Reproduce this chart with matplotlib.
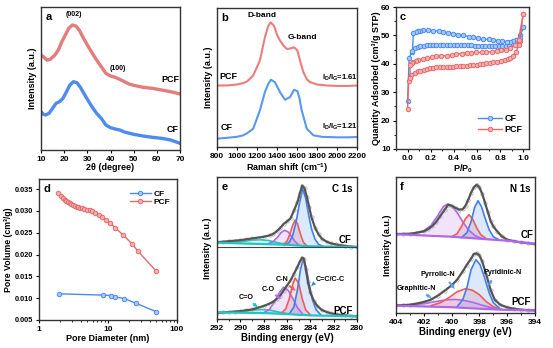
import matplotlib
matplotlib.use("Agg")
import matplotlib.pyplot as plt
from matplotlib.ticker import MultipleLocator, FormatStrFormatter, NullFormatter
from matplotlib.lines import Line2D

plt.rcParams['font.family'] = ['Liberation Sans', 'DejaVu Sans']
plt.rcParams['font.weight'] = 'bold'
plt.rcParams['axes.labelweight'] = 'bold'
plt.rcParams['font.size'] = 6
plt.rcParams['axes.linewidth'] = 1.0
plt.rcParams['axes.edgecolor'] = '#333333'
plt.rcParams['xtick.major.size'] = 2.5
plt.rcParams['ytick.major.size'] = 2.5
plt.rcParams['xtick.minor.size'] = 1.5
plt.rcParams['ytick.minor.size'] = 1.5
plt.rcParams['xtick.major.pad'] = 1.5
plt.rcParams['ytick.major.pad'] = 1.5
plt.rcParams['mathtext.default'] = 'regular'

# ---------------- data ----------------
# (a) XRD, intensity in arbitrary units
xrd_2theta_pcf = [10, 11, 12.5, 14, 16, 17.5, 19, 20.5, 22, 23.5, 25, 26.5, 28, 30, 32, 34, 36, 38,
                  40, 42, 44, 46, 48, 50, 54, 58, 62, 66, 70]
xrd_pcf = [95, 93.3, 90, 90.7, 95, 100, 108.3, 115, 121.7, 125, 124, 120, 113.3, 105, 97.3, 90, 83.3, 76.7,
           74, 72.7, 70.7, 68.3, 66, 64.7, 62.7, 61.7, 60, 58.3, 56]
xrd_2theta_cf = [10, 11, 12, 13.5, 15, 16.5, 18, 19.5, 21, 22.5, 24, 25.5, 27, 28.5, 30, 32, 34, 36, 38,
                 40, 42, 44, 46, 50, 54, 58, 62, 66, 70]
xrd_cf = [38.3, 35.7, 35, 36.7, 41.7, 46.7, 48.3, 51.7, 58.3, 65, 68.3, 67.3, 62.7, 56.7, 50.7, 43.3, 36.7,
          31.7, 25, 22.3, 21, 20, 18, 15.7, 14, 12.7, 11.7, 10, 6.7]

# (b) Raman
raman_x_pcf = [800, 900, 1000, 1061, 1100, 1162, 1229, 1279, 1310, 1336, 1370, 1400, 1430, 1465, 1497,
               1530, 1570, 1604, 1630, 1664, 1700, 1731, 1800, 1900, 2000, 2100, 2200]
raman_pcf = [65, 65, 66, 67.3, 69, 75, 90, 113.3, 124, 128.3, 125, 116, 110, 105, 101.7,
             102, 103.3, 100, 90, 78.3, 71, 68.3, 66, 65, 64.5, 64.5, 65]
raman_x_cf = [800, 900, 1000, 1061, 1100, 1162, 1229, 1279, 1310, 1340, 1379, 1430, 1480, 1530, 1570,
              1604, 1625, 1647, 1698, 1764, 1850, 2000, 2100, 2200]
raman_cf = [11.7, 12.5, 13.5, 15, 17, 21.7, 40, 58.3, 66, 70.7, 68.3, 58.3, 50.7, 53.3, 60.7,
            59.3, 52, 40, 21.7, 15, 13.5, 13, 13, 13.3]

# (c) N2 isotherms
cf_ads_p = [0.0, 0.014, 0.037, 0.066, 0.09, 0.11, 0.14, 0.166, 0.19, 0.22, 0.25, 0.28, 0.31, 0.34, 0.37,
            0.4, 0.43, 0.46, 0.49, 0.52, 0.55, 0.58, 0.61, 0.64, 0.67, 0.7, 0.73, 0.76, 0.79, 0.82, 0.85,
            0.88, 0.91, 0.93, 0.95, 0.97, 1.0]
cf_ads_q = [26.8, 42.0, 44.3, 45.5, 45.8, 46.1, 46.4, 46.7, 46.7, 46.7, 46.7, 46.7, 46.7, 46.7, 46.6,
            46.6, 46.6, 46.6, 46.5, 46.5, 46.5, 46.4, 46.4, 46.4, 46.3, 46.3, 46.2, 46.2, 46.1, 46.1, 46.2,
            46.5, 47.0, 47.5, 48.5, 50.0, 53.0]
cf_des_p = [1.0, 0.97, 0.94, 0.91, 0.89, 0.86, 0.82, 0.78, 0.74, 0.7, 0.65, 0.61, 0.57, 0.53, 0.48,
            0.44, 0.39, 0.35, 0.31, 0.27, 0.22, 0.18, 0.137, 0.11, 0.094, 0.07, 0.05, 0.042]
cf_des_q = [53.0, 49.0, 48.3, 47.9, 47.8, 47.8, 47.9, 48.1, 48.4, 48.6, 48.7, 49.0, 49.3, 49.6, 50.0,
            50.3, 50.6, 50.9, 51.2, 51.5, 51.7, 51.8, 51.8, 51.6, 51.4, 51.1, 50.8, 44.5]
pcf_ads_p = [0.0, 0.01, 0.03, 0.066, 0.09, 0.11, 0.14, 0.166, 0.19, 0.22, 0.25, 0.28, 0.31, 0.34, 0.37,
             0.39, 0.42, 0.45, 0.48, 0.51, 0.54, 0.57, 0.6, 0.63, 0.65, 0.68, 0.71, 0.74, 0.77, 0.81,
             0.84, 0.87, 0.89, 0.91, 0.94, 0.96, 0.97, 1.0]
pcf_ads_q = [24.2, 34.0, 36.1, 36.9, 37.3, 37.6, 37.9, 38.2, 38.4, 38.6, 38.7, 38.7, 38.7, 38.8, 38.9,
             39.0, 39.1, 39.2, 39.3, 39.4, 39.5, 39.6, 39.7, 39.9, 40.0, 40.2, 40.3, 40.5, 40.8, 41.1,
             41.4, 41.8, 42.2, 42.8, 44.3, 46.7, 48.2, 57.6]
pcf_des_p = [1.0, 0.96, 0.93, 0.89, 0.85, 0.81, 0.77, 0.73, 0.68, 0.64, 0.59, 0.55, 0.51, 0.47, 0.42,
             0.38, 0.34, 0.29, 0.25, 0.21, 0.166, 0.13, 0.094, 0.07, 0.05, 0.035, 0.023, 0.02]
pcf_des_q = [57.6, 48.5, 46.7, 45.5, 44.9, 44.7, 44.5, 44.3, 44.1, 44.0, 44.0, 43.9, 43.8, 43.6, 43.4,
             43.1, 42.9, 42.7, 42.6, 42.3, 42.0, 41.7, 41.4, 41.1, 40.8, 40.2, 39.6, 35.0]

# (d) pore size distribution
pore_d_pcf = [1.9, 2.05, 2.2, 2.35, 2.5, 2.65, 2.8, 2.95, 3.1, 3.3, 3.5, 3.7, 3.95, 4.2, 4.5, 4.9, 5.4,
              5.9, 6.5, 7.3, 8.2, 9.3, 10.7, 12.8, 16.5, 22.5, 27, 50]
pore_v_pcf = [0.0342, 0.0333, 0.0329, 0.0325, 0.0322, 0.0320, 0.0318, 0.0316, 0.0314, 0.0312, 0.0310,
              0.0309, 0.0307, 0.0306, 0.0305, 0.0303, 0.0301, 0.0299, 0.0296, 0.0291, 0.0286, 0.0280,
              0.0272, 0.0261, 0.0245, 0.0224, 0.0208, 0.0162]
pore_d_cf = [1.95, 8.6, 11.1, 12.5, 17.3, 25.8, 50]
pore_v_cf = [0.0110, 0.0107, 0.0106, 0.0103, 0.0099, 0.0088, 0.0069]

# (e) C 1s XPS (arbitrary units, CF spectrum offset above PCF)
c1s_cf_x = [292, 291.5, 291, 290.5, 290, 289.5, 289, 288.5, 288, 287.5, 287.2, 286.9, 286.6, 286.3, 286.0,
            285.7, 285.4, 285.1, 284.9, 284.7, 284.5, 284.3, 284.1, 283.9, 283.6, 283.3, 283.0, 282.6,
            282.2, 281.8, 281.4, 281, 280.5, 280]
c1s_cf = [79, 79.5, 80, 80.5, 81, 81.8, 82.7, 83.5, 84.3, 85.7, 87, 89.5, 92.7, 96.7, 99.3,
          102.3, 110, 118.3, 126.7, 134.3, 131.7, 123.3, 113.3, 103.3, 93.3, 86.7, 82.3, 79.5,
          77.8, 76.8, 76, 75.3, 74.7, 74.3]
c1s_cf_bg_x = [292, 286, 284, 280]
c1s_cf_bg = [78.5, 76.5, 75, 74.3]
c1s_cf_co2_x = [291, 290, 289, 288.3, 287.5, 286.8, 286]
c1s_cf_co2 = [78.5, 79.5, 81, 81.5, 80.5, 78.5, 76.8]
c1s_cf_co_x = [287.6, 287.2, 286.8, 286.5, 286.2, 285.9, 285.6, 285.3, 285.0]
c1s_cf_co = [77.6, 79.5, 84, 88.5, 90.7, 89, 84.5, 79.5, 76.5]
c1s_cf_cn_x = [286.3, 286.0, 285.75, 285.5, 285.3, 285.1, 284.85, 284.6, 284.3]
c1s_cf_cn = [77, 80, 87, 96, 100.7, 97, 87, 79, 75.5]
c1s_cf_cc_x = [286.2, 285.8, 285.5, 285.2, 284.95, 284.65, 284.4, 284.15, 283.9, 283.6, 283.3, 282.9]
c1s_cf_cc = [76, 79, 86, 100, 116, 131, 122, 106, 92, 82, 77, 75]

c1s_pcf_x = [292, 291.5, 291, 290.5, 290, 289.5, 289, 288.5, 288, 287.5, 287.2, 286.9, 286.6, 286.3, 286.0,
             285.7, 285.4, 285.1, 284.9, 284.7, 284.55, 284.4, 284.2, 284.0, 283.7, 283.4, 283.0, 282.6,
             282.2, 281.8, 281.4, 281, 280.5, 280]
c1s_pcf = [10, 10.4, 10.8, 11.3, 11.7, 12.5, 13.3, 15, 16.7, 19, 20.8, 23.5, 26.7, 31.7, 36.7,
           41.7, 48.3, 55, 60, 64, 62.7, 53.3, 40, 30, 21.7, 16.7, 12.7, 10.8, 9.5, 8.6, 8, 7.5, 7, 6.7]
c1s_pcf_bg_x = [292, 288, 286, 284, 280]
c1s_pcf_bg = [10.5, 9.8, 8.8, 7.5, 6.7]
c1s_pcf_co2_x = [291, 290, 289, 288.2, 287.4, 286.6, 285.8]
c1s_pcf_co2 = [10.5, 11.3, 12.7, 13.3, 12.5, 10.5, 9]
c1s_pcf_co_x = [288.0, 287.5, 287.0, 286.7, 286.3, 285.9, 285.5, 285.1, 284.7]
c1s_pcf_co = [10, 13.5, 22, 29, 35, 32, 24, 15, 9.5]
c1s_pcf_cn_x = [286.5, 286.1, 285.8, 285.5, 285.3, 285.0, 284.7, 284.4, 284.0]
c1s_pcf_cn = [9.5, 14, 24, 38, 44, 39, 24, 13, 8]
c1s_pcf_cc_x = [285.8, 285.4, 285.1, 284.85, 284.6, 284.35, 284.1, 283.8, 283.5, 283.1]
c1s_pcf_cc = [9, 16, 33, 52, 62.7, 54, 38, 22, 13, 8]

# (f) N 1s XPS
n1s_cf_x = [404, 403.5, 403, 402.5, 402, 401.7, 401.4, 401.1, 400.8, 400.5, 400.25, 400.0, 399.7, 399.45,
            399.2, 399.0, 398.8, 398.6, 398.4, 398.2, 398.0, 397.8, 397.6, 397.4, 397.2, 397.0, 396.7,
            396.4, 396.0, 395.5, 395, 394.5, 394]
n1s_cf = [85.7, 85.8, 86, 87, 88.3, 90.5, 93.5, 98, 104, 110, 115, 114, 111.7, 110,
          110.5, 114, 120, 127, 132.3, 135, 132.3, 126, 117, 108, 99, 93.3, 88,
          83.5, 80, 78.5, 77.3, 76.5, 75.7]
n1s_cf_bg_x = [404, 400, 398, 396, 394]
n1s_cf_bg = [85.5, 83, 81, 79, 76]
n1s_cf_gr_x = [402.6, 402, 401.5, 401, 400.6, 400.3, 400, 399.6, 399.2, 398.8, 398.3, 397.8]
n1s_cf_gr = [87, 89, 94, 104, 113, 115.7, 114, 107, 98, 90, 84, 81]
n1s_cf_pyr_x = [400.0, 399.6, 399.3, 399.0, 398.75, 398.5, 398.2, 397.9, 397.5]
n1s_cf_pyr = [83, 86, 93, 101, 105, 101, 92, 85, 81]
n1s_cf_pyd_x = [399.3, 398.9, 398.6, 398.35, 398.1, 397.85, 397.6, 397.3, 397.0, 396.6]
n1s_cf_pyd = [82, 87, 98, 112, 119, 113, 102, 90, 83, 80]

n1s_pcf_x = [404, 403.5, 403, 402.5, 402, 401.5, 401, 400.5, 400, 399.6, 399.2, 398.9, 398.6, 398.4,
             398.2, 398.0, 397.8, 397.5, 397.2, 396.9, 396.5, 396, 395.5, 395, 394.5, 394]
n1s_pcf = [14.3, 14.6, 15, 16.2, 17.7, 20, 24, 29, 34.3, 40, 48.3, 55, 61, 65.7,
           66.3, 64.3, 58.3, 45, 30, 20, 15, 12.3, 11, 10, 9.6, 9.3]
n1s_pcf_bg_x = [404, 400, 398, 396, 394]
n1s_pcf_bg = [14, 12.5, 11, 9.8, 9.3]
n1s_pcf_gr_x = [403, 402, 401, 400.3, 399.8, 399.2, 398.5, 397.8, 397.0, 396.3]
n1s_pcf_gr = [14.5, 16, 18.5, 20, 20.3, 19.5, 17.5, 14.5, 11.5, 10]
n1s_pcf_pyr_x = [401.5, 400.8, 400.2, 399.6, 399.0, 398.5, 398, 397.5, 397, 396.5]
n1s_pcf_pyr = [14, 17, 22, 28, 31, 29.5, 25, 18, 13, 10.5]
n1s_pcf_pyd_x = [399.6, 399.2, 398.9, 398.6, 398.25, 397.95, 397.65, 397.3, 397.0, 396.6]
n1s_pcf_pyd = [13, 20, 32, 50, 60, 55, 43, 27, 17, 12]

# ---------------- colours ----------------
RED = '#e66a6a'
BLUE = '#4a8bf0'
XPS_BLUE = '#3f80ea'
XPS_RED = '#ee5c5c'
XPS_PURPLE = '#b067ec'
XPS_CYAN = '#22c4c4'
GREY = '#555555'

W, H = 553, 348
fig = plt.figure(figsize=(W / 100, H / 100), dpi=100)


def box(l, t, r, b):
    return [l / W, 1 - b / H, (r - l) / W, (b - t) / H]


def letter(ax, s):
    ax.text(0.03, 0.965, s, transform=ax.transAxes, fontsize=8, fontweight='bold', va='top', ha='left')


# ===== (a) XRD =====
ax1 = fig.add_axes(box(41, 7, 180, 150))
ax1.plot(xrd_2theta_pcf, xrd_pcf, color='#e57b7b', lw=2.4)
ax1.plot(xrd_2theta_cf, xrd_cf, color='#4d8bf2', lw=2.4)
ax1.set_xlim(10, 70)
ax1.set_ylim(0, 143)
ax1.set_yticks([])
ax1.xaxis.set_major_locator(MultipleLocator(10))
ax1.set_xlabel('2θ (degree)', fontsize=6.5, labelpad=0)
ax1.set_ylabel('Intensity (a.u.)', fontsize=6.5)
ax1.yaxis.set_label_coords(-0.03, 0.5)
ax1.text(24, 135, '(002)', fontsize=5, ha='center', va='center')
ax1.text(43, 81, '(100)', fontsize=5, ha='center', va='center')
ax1.text(66, 70, 'PCF', fontsize=6.5, ha='center', va='center')
ax1.text(67, 20, 'CF', fontsize=6.5, ha='center', va='center')
letter(ax1, 'a')

# ===== (b) Raman =====
ax2 = fig.add_axes(box(217, 8, 357, 147))
ax2.plot(raman_x_pcf, raman_pcf, color='#ec7d7d', lw=1.5)
ax2.plot(raman_x_cf, raman_cf, color='#5a97f2', lw=1.5)
ax2.set_xlim(800, 2200)
ax2.set_ylim(3.3, 142.7)
ax2.set_yticks([])
ax2.xaxis.set_major_locator(MultipleLocator(200))
ax2.set_xlabel('Raman shift (cm$^{-1}$)', fontsize=6.5, labelpad=1)
ax2.set_ylabel('Intensity (a.u.)', fontsize=6.5)
ax2.yaxis.set_label_coords(-0.029, 0.5)
ax2.text(1245, 135, 'D-band', fontsize=6, ha='center', va='center')
ax2.text(1654, 113, 'G-band', fontsize=6, ha='center', va='center')
ax2.text(910, 74, 'PCF', fontsize=6.5, ha='center', va='center')
ax2.text(897, 23, 'CF', fontsize=6.5, ha='center', va='center')
ax2.text(2029, 73, r'I$_D$/I$_G$=1.61', fontsize=5.5, ha='center', va='center')
ax2.text(2029, 23, r'I$_D$/I$_G$=1.21', fontsize=5.5, ha='center', va='center')
letter(ax2, 'b')

# ===== (c) isotherms =====
ax3 = fig.add_axes(box(396, 7, 529, 149))
mk = dict(marker='o', ms=3.2, mew=0.7, lw=1.0)
ax3.plot(cf_ads_p, cf_ads_q, color=BLUE, mfc='#a9c8f8', mec=BLUE, **mk)
ax3.plot(cf_des_p, cf_des_q, color=BLUE, mfc='#a9c8f8', mec=BLUE, **mk)
ax3.plot(pcf_ads_p, pcf_ads_q, color=RED, mfc='#f2b0b0', mec=RED, **mk)
ax3.plot(pcf_des_p, pcf_des_q, color=RED, mfc='#f2b0b0', mec=RED, **mk)
ax3.set_xlim(-0.1, 1.05)
ax3.set_ylim(10, 60)
ax3.xaxis.set_major_locator(MultipleLocator(0.2))
ax3.xaxis.set_minor_locator(MultipleLocator(0.1))
ax3.yaxis.set_major_locator(MultipleLocator(10))
ax3.yaxis.set_minor_locator(MultipleLocator(5))
ax3.xaxis.set_major_formatter(FormatStrFormatter('%.1f'))
ax3.set_xlabel('P/P$_0$', fontsize=6.5, labelpad=1)
ax3.set_ylabel('Quantity Adsorbed (cm³/g STP)', fontsize=6.5)
ax3.yaxis.set_label_coords(-0.115, 0.5)
h_cf = Line2D([], [], color=BLUE, mfc='#a9c8f8', mec=BLUE, **mk)
h_pcf = Line2D([], [], color=RED, mfc='#f2b0b0', mec=RED, **mk)
ax3.legend([h_cf, h_pcf], ['CF', 'PCF'], loc='lower right', bbox_to_anchor=(1.0, 0.06), frameon=False,
           fontsize=6.5, handlelength=2.6, handletextpad=0.3, labelspacing=0.2, borderaxespad=0.3)
letter(ax3, 'c')

# ===== (d) pore size distribution =====
ax4 = fig.add_axes(box(39, 179, 177, 320))
ax4.plot(pore_d_cf, pore_v_cf, color=BLUE, mfc='#a9c8f8', mec=BLUE, **mk, label='CF')
ax4.plot(pore_d_pcf, pore_v_pcf, color=RED, mfc='#f2b0b0', mec=RED, **mk, label='PCF')
ax4.set_xscale('log')
ax4.set_xlim(1, 100)
ax4.set_ylim(0.005, 0.0373)
ax4.xaxis.set_minor_formatter(NullFormatter())
ax4.set_xticks([1, 10, 100])
ax4.set_xticklabels(['1', '10', '100'])
ax4.yaxis.set_major_locator(MultipleLocator(0.005))
ax4.yaxis.set_major_formatter(FormatStrFormatter('%.3f'))
ax4.tick_params(axis='y', labelsize=5.3)
ax4.set_xlabel('Pore Diameter (nm)', fontsize=6.5, labelpad=1)
ax4.set_ylabel('Pore Volume (cm³/g)', fontsize=6.3)
ax4.yaxis.set_label_coords(-0.19, 0.5)
ax4.legend(loc='upper right', bbox_to_anchor=(1.0, 0.97), frameon=False, fontsize=6, handlelength=2.6,
           handletextpad=0.3, labelspacing=0.1, borderaxespad=0.4)
letter(ax4, 'd')


def draw_comp(ax, x, y, color, lw=1.2):
    ax.fill(x, y, color=color, alpha=0.18, lw=0)
    ax.plot(x, y, color=color, lw=lw)


def draw_envelope(ax, x, y):
    ax.plot(x, y, ls='none', marker='o', ms=2.4, mfc='none', mec='#a8a8a8', mew=0.5)
    ax.plot(x, y, color=GREY, lw=1.6)


# ===== (e) C 1s =====
ax5 = fig.add_axes(box(217, 177, 357, 319))
for sx, sy, c in [(c1s_cf_co2_x, c1s_cf_co2, XPS_CYAN), (c1s_cf_co_x, c1s_cf_co, XPS_PURPLE),
                  (c1s_cf_cn_x, c1s_cf_cn, XPS_RED), (c1s_cf_cc_x, c1s_cf_cc, XPS_BLUE),
                  (c1s_pcf_co2_x, c1s_pcf_co2, XPS_CYAN), (c1s_pcf_co_x, c1s_pcf_co, XPS_PURPLE),
                  (c1s_pcf_cn_x, c1s_pcf_cn, XPS_RED), (c1s_pcf_cc_x, c1s_pcf_cc, XPS_BLUE)]:
    draw_comp(ax5, sx, sy, c)
draw_envelope(ax5, c1s_cf_x, c1s_cf)
draw_envelope(ax5, c1s_pcf_x, c1s_pcf)
ax5.plot(c1s_cf_bg_x, c1s_cf_bg, color=XPS_CYAN, lw=1.6)
ax5.plot(c1s_pcf_bg_x, c1s_pcf_bg, color=XPS_CYAN, lw=1.6)
ax5.axhline(74, color='#444444', lw=0.8)
ax5.set_xlim(292, 280)
ax5.set_ylim(4, 142.7)
ax5.set_yticks([])
ax5.xaxis.set_major_locator(MultipleLocator(2))
ax5.xaxis.set_minor_locator(MultipleLocator(1))
ax5.set_xlabel('Binding energy (eV)', fontsize=7, labelpad=1)
ax5.set_ylabel('Intensity (a.u.)', fontsize=6.5)
ax5.yaxis.set_label_coords(-0.036, 0.5)
ax5.text(0.97, 0.95, 'C 1s', transform=ax5.transAxes, fontsize=7, ha='right', va='top')
ax5.text(281.0, 81, 'CF', fontsize=7, ha='center', va='center')
ax5.text(281.2, 12, 'PCF', fontsize=7, ha='center', va='center')
ax5.text(282.3, 42.5, 'C=C/C-C', fontsize=5.2, ha='center', va='center')
ax5.text(286.4, 42.3, 'C-N', fontsize=5.2, ha='center', va='center')
ax5.text(287.6, 33.3, 'C-O', fontsize=5.2, ha='center', va='center')
ax5.text(289.5, 25, 'C=O', fontsize=5.2, ha='center', va='center')
arr = dict(arrowstyle='simple,head_width=0.5,head_length=0.6,tail_width=0.25', lw=0)
ax5.annotate('', xy=(284.1, 34), xytext=(283.5, 41), arrowprops=dict(fc=XPS_BLUE, **arr))
ax5.annotate('', xy=(285.05, 30), xytext=(286.0, 38), arrowprops=dict(fc=XPS_RED, **arr))
ax5.annotate('', xy=(286.3, 22), xytext=(287.2, 29), arrowprops=dict(fc=XPS_PURPLE, **arr))
ax5.annotate('', xy=(288.3, 13.5), xytext=(289.1, 21), arrowprops=dict(fc=XPS_CYAN, **arr))
letter(ax5, 'e')

# ===== (f) N 1s =====
ax6 = fig.add_axes(box(396, 177, 535, 313))
for sx, sy, c in [(n1s_cf_gr_x, n1s_cf_gr, XPS_PURPLE), (n1s_cf_pyr_x, n1s_cf_pyr, XPS_RED),
                  (n1s_cf_pyd_x, n1s_cf_pyd, XPS_BLUE),
                  (n1s_pcf_gr_x, n1s_pcf_gr, XPS_PURPLE), (n1s_pcf_pyr_x, n1s_pcf_pyr, XPS_RED),
                  (n1s_pcf_pyd_x, n1s_pcf_pyd, XPS_BLUE)]:
    draw_comp(ax6, sx, sy, c)
draw_envelope(ax6, n1s_cf_x, n1s_cf)
draw_envelope(ax6, n1s_pcf_x, n1s_pcf)
ax6.plot(n1s_cf_bg_x, n1s_cf_bg, color=XPS_PURPLE, lw=1.6)
ax6.plot(n1s_pcf_bg_x, n1s_pcf_bg, color=XPS_PURPLE, lw=1.6)
ax6.set_xlim(404, 394)
ax6.set_ylim(6.7, 142.7)
ax6.set_yticks([])
ax6.xaxis.set_major_locator(MultipleLocator(2))
ax6.xaxis.set_minor_locator(MultipleLocator(1))
ax6.set_xlabel('Binding energy (eV)', fontsize=7, labelpad=1)
ax6.set_ylabel('Intensity (a.u.)', fontsize=6.5)
ax6.yaxis.set_label_coords(-0.029, 0.5)
ax6.text(0.97, 0.95, 'N 1s', transform=ax6.transAxes, fontsize=7, ha='right', va='top')
ax6.text(394.6, 85, 'CF', fontsize=7, ha='center', va='center')
ax6.text(395.0, 18, 'PCF', fontsize=7, ha='center', va='center')
ax6.text(401.0, 45, 'Pyrrolic-N', fontsize=5.2, ha='center', va='center')
ax6.text(396.3, 46.7, 'Pyridinic-N', fontsize=5.2, ha='center', va='center')
ax6.text(402.5, 31.7, 'Graphitic-N', fontsize=5.2, ha='center', va='center')
ax6.annotate('', xy=(399.65, 28.3), xytext=(400.3, 40), arrowprops=dict(fc='#5aa0f0', **arr))
ax6.annotate('', xy=(397.5, 31.7), xytext=(397.0, 41.7), arrowprops=dict(fc='#5aa0f0', **arr))
ax6.annotate('', xy=(401.26, 20), xytext=(402.0, 26.7), arrowprops=dict(fc='#5aa0f0', **arr))
letter(ax6, 'f')

fig.savefig('out.png', dpi=100)
